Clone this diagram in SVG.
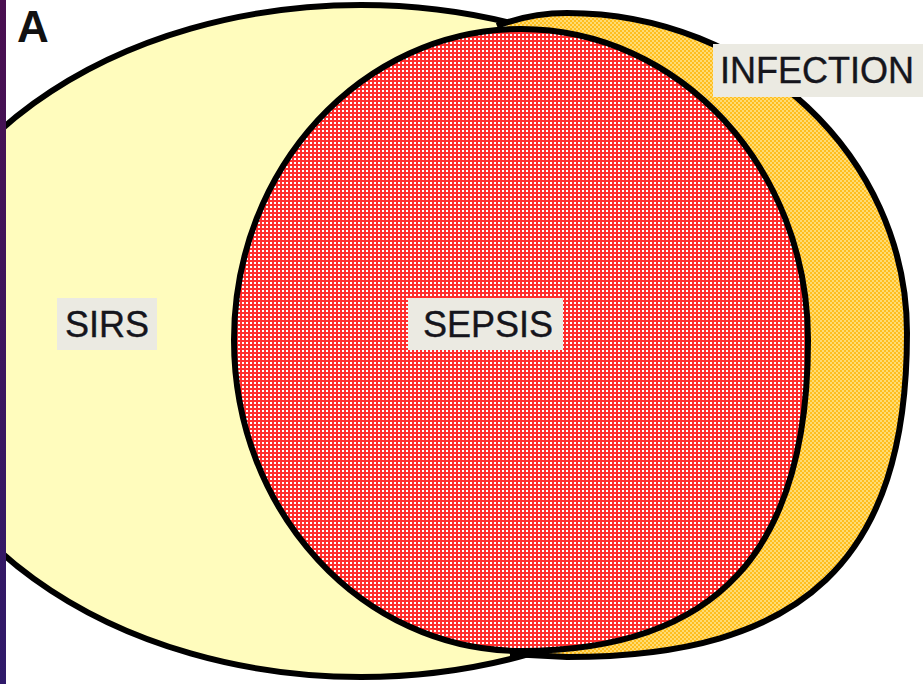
<svg xmlns="http://www.w3.org/2000/svg" width="923" height="684" viewBox="0 0 923 684">
  <style>
    .outline { stroke: #000; stroke-width: 6; stroke-linejoin: round; }
    .lbl-box { fill: #ebeae2; }
    .lbl { font-family: "Liberation Sans", Arial, sans-serif; font-size: 36px; fill: #15151c; text-anchor: middle; stroke: #15151c; stroke-width: 0.4; }
    .panel { font-family: "Liberation Sans", Arial, sans-serif; font-size: 44px; font-weight: bold; fill: #111; }
  </style>
  <defs>
    <linearGradient id="strip" x1="0" y1="0" x2="0" y2="1">
      <stop offset="0" stop-color="#4a0f50"/>
      <stop offset="1" stop-color="#2f1a6a"/>
    </linearGradient>
    <pattern id="grid" width="4" height="4" patternUnits="userSpaceOnUse">
      <rect width="4" height="4" fill="#ffffff"/>
      <rect width="4" height="2" fill="#ff2e2e"/>
      <rect width="2" height="4" fill="#ff2e2e"/>
    </pattern>
    <pattern id="dots" width="4" height="4" patternUnits="userSpaceOnUse">
      <rect width="4" height="4" fill="#ffbe1e"/>
      <rect width="2" height="2" fill="#ffdc74"/>
      <rect x="2" y="2" width="2" height="2" fill="#ffdc74"/>
    </pattern>
  </defs>

  <rect width="923" height="684" fill="#ffffff"/>

  <g id="node-sirs">
    <ellipse cx="361" cy="341" rx="463" ry="336" fill="#fffcbd" class="outline"/>
    <rect class="lbl-box" x="57" y="298" width="100" height="52"/>
    <text class="lbl" x="107" y="337">SIRS</text>
  </g>

  <g id="node-infection">
    <path d="M 507,22 C 527,16 547,13 567,13 C 753.7,13 907,156.3 907,333 C 907,559.8 803.6,657 567,657 L 520,655 L 515,400 Z" fill="url(#dots)"/>
    <path d="M 497,26 C 520,17 547,13 567,13 C 753.7,13 907,156.3 907,333 C 907,559.8 803.6,657 567,657 L 510,654" fill="none" class="outline"/>
    <rect class="lbl-box" x="713" y="44" width="210" height="53"/>
    <text class="lbl" x="817" y="83">INFECTION</text>
  </g>

  <g id="node-sepsis">
    <path d="M 521,29 C 679.5,29 808,168.2 808,340 C 808,551.5 716.2,651 521,651 C 362.5,651 234,511.8 234,340 C 234,168.2 362.5,29 521,29 Z" fill="url(#grid)" class="outline"/>
    <rect class="lbl-box" x="408" y="298" width="155" height="52"/>
    <text class="lbl" x="488" y="337">SEPSIS</text>
  </g>

  <g id="connectors"/>

  <rect x="0" y="0" width="6" height="684" fill="url(#strip)"/>
  <text class="panel" x="17" y="42">A</text>
</svg>
